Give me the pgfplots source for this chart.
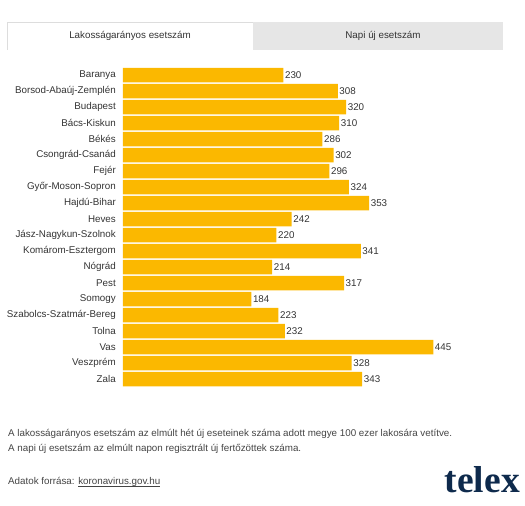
\documentclass[border=0pt]{standalone}
\usepackage{fontspec}
\setmainfont{Liberation Sans}
\newfontfamily\logofont{Liberation Serif}
\usepackage{pgfplots}
\pgfplotsset{compat=1.18}
\definecolor{barc}{HTML}{FBB800}
\definecolor{txt}{HTML}{333333}
\definecolor{foot}{HTML}{444444}
\definecolor{logoc}{HTML}{0E2A4C}
\definecolor{tabg}{HTML}{E6E6E6}
\definecolor{tabline}{HTML}{DDDDDD}
\newcommand\ul[1]{\setbox0\hbox{#1}\rlap{\rule[-1.6pt]{\wd0}{0.5pt}}\box0}
\begin{document}
\begin{tikzpicture}[x=1pt,y=1pt]
\useasboundingbox (0,0) rectangle (525,506);
% tabs
\fill[tabg] (253,456) rectangle (503,484);
\draw[tabline, line width=0.8pt] (7,456) -- (7,484) -- (253,484);
\node[font=\fontsize{9.8}{12}\selectfont, text=txt] at (130,470) {Lakosságarányos esetszám};
\node[font=\fontsize{9.8}{12}\selectfont, text=txt] at (383,470) {Napi új esetszám};
\begin{axis}[
  at={(123pt,119pt)}, anchor=south west,
  scale only axis, width=310.3pt, height=320pt,
  xmin=0, xmax=445, ymin=-0.5, ymax=19.5, y dir=reverse,
  xbar, bar width=14.5pt,
  axis line style={draw=none},
  major tick length=0pt,
  xtick=\empty,
  ytick={0,...,19},
  yticklabels={Baranya,Borsod-Abaúj-Zemplén,Budapest,Bács-Kiskun,Békés,Csongrád-Csanád,Fejér,Győr-Moson-Sopron,Hajdú-Bihar,Heves,Jász-Nagykun-Szolnok,Komárom-Esztergom,Nógrád,Pest,Somogy,Szabolcs-Szatmár-Bereg,Tolna,Vas,Veszprém,Zala},
  yticklabel style={font=\fontsize{9.8}{12}\selectfont, text=txt, inner sep=0pt, xshift=-7pt},
  nodes near coords,
  nodes near coords style={font=\fontsize{9.8}{12}\selectfont, text=txt, anchor=west, inner sep=1.5pt},
  /pgf/number format/assume math mode=true,
  clip=false,
]
\addplot[fill=barc, draw=none] coordinates {
(230,0) (308,1) (320,2) (310,3) (286,4) (302,5) (296,6) (324,7) (353,8) (242,9)
(220,10) (341,11) (214,12) (317,13) (184,14) (223,15) (232,16) (445,17) (328,18) (343,19)};
\end{axis}
% footnotes
\node[anchor=west, font=\fontsize{9.8}{12}\selectfont, text=foot, inner sep=0pt] at (8,72) {A lakosságarányos esetszám az elmúlt hét új eseteinek száma adott megye 100 ezer lakosára vetítve.};
\node[anchor=west, font=\fontsize{9.8}{12}\selectfont, text=foot, inner sep=0pt] at (8,57) {A napi új esetszám az elmúlt napon regisztrált új fertőzöttek száma.};
\node[anchor=west, font=\fontsize{9.8}{12}\selectfont, text=foot, inner sep=0pt] at (8,24) {Adatok forrása: \ul{koronavirus.gov.hu}};
\node[anchor=base east, font=\logofont\bfseries\fontsize{37.5}{40}\selectfont, text=logoc, inner sep=0pt] at (520,13) {telex};
\end{tikzpicture}
\end{document}
